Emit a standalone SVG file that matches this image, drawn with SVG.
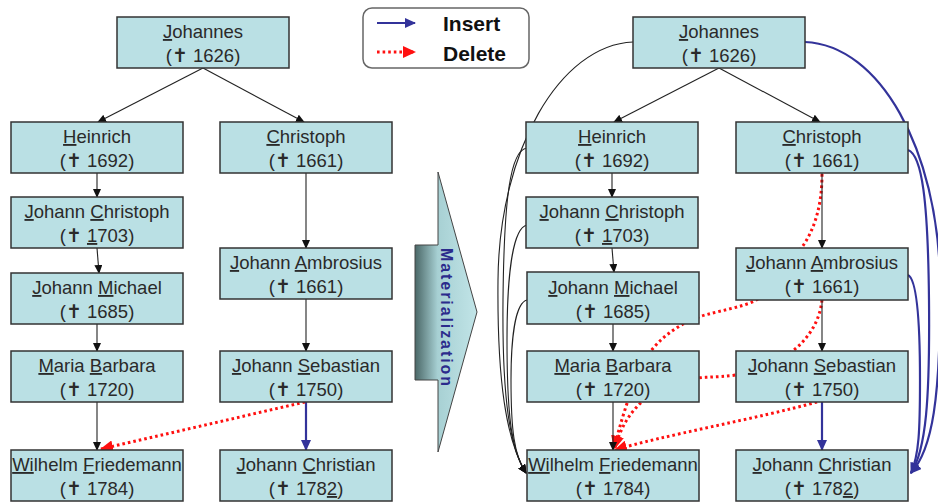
<svg xmlns="http://www.w3.org/2000/svg" width="938" height="503" viewBox="0 0 938 503">
  <style>
    .box { fill: #bae0e4; stroke: #333; stroke-width: 1.5; }
    .lbl { font-family: "Liberation Sans", Arial, sans-serif; font-size: 18.5px; fill: #2a2a2a; text-anchor: middle; }
    .u { text-decoration: underline; }
    .tree { fill: none; stroke: #222; stroke-width: 1.1; marker-end: url(#ahBlack); }
    .ins { fill: none; stroke: #33339a; stroke-width: 2.2; marker-end: url(#ahBlue); }
    .del { fill: none; stroke: #ff1010; stroke-width: 3; stroke-dasharray: 2.6 3; marker-end: url(#ahRed); }
    .legend-text { font-family: "Liberation Sans", Arial, sans-serif; font-size: 21px; font-weight: bold; fill: #111; }
  </style>
  <defs>
    <marker id="ahBlack" markerWidth="9" markerHeight="8" refX="8" refY="4" orient="auto" markerUnits="userSpaceOnUse">
      <path d="M0,0 L9,4 L0,8 Z" fill="#111"/>
    </marker>
    <marker id="ahBlue" markerWidth="11" markerHeight="10" refX="10" refY="5" orient="auto" markerUnits="userSpaceOnUse">
      <path d="M0,0 L11,5 L0,10 Z" fill="#33339a"/>
    </marker>
    <marker id="ahRed" markerWidth="13" markerHeight="12" refX="12" refY="6" orient="auto" markerUnits="userSpaceOnUse">
      <path d="M0,0 L13,6 L0,12 Z" fill="#ff1010"/>
    </marker>
    <linearGradient id="shaftGrad" x1="415" y1="0" x2="478" y2="0" gradientUnits="userSpaceOnUse">
      <stop offset="0" stop-color="#4a6767"/>
      <stop offset="0.36" stop-color="#a7d0d3"/>
      <stop offset="1" stop-color="#c2e5e8"/>
    </linearGradient>
  </defs>

  <!-- legend -->
  <g id="legend">
    <rect x="363" y="8" width="166" height="60" rx="9" fill="#fff" stroke="#666" stroke-width="1.5"/>
    <line x1="377" y1="23" x2="415" y2="23" stroke="#33339a" stroke-width="2.2" marker-end="url(#ahBlue)"/>
    <line x1="377" y1="52" x2="415" y2="52" class="del"/>
    <text class="legend-text" x="443" y="31">Insert</text>
    <text class="legend-text" x="443" y="61">Delete</text>
  </g>

  <!-- materialization block arrow -->
  <g id="materialization">
    <path d="M415,245 L438,245 L438,172 L477,312 L438,452 L438,380 L415,380 Z" fill="url(#shaftGrad)" stroke="#444" stroke-width="1"/>
    <text transform="translate(441,317) rotate(90)" x="0" y="0" text-anchor="middle" textLength="138" lengthAdjust="spacing"
          font-family="Liberation Sans, Arial, sans-serif" font-size="16" font-weight="bold" fill="#2b2b8c">Materialization</text>
  </g>

  <!-- connectors -->
  <g id="connectors">
    <!-- before materialization -->
    <line class="tree" x1="203" y1="68" x2="98" y2="122"/>
    <line class="tree" x1="203" y1="68" x2="304" y2="122"/>
    <line class="tree" x1="97" y1="173" x2="97" y2="197"/>
    <line class="tree" x1="97" y1="248" x2="99" y2="273"/>
    <line class="tree" x1="97" y1="324" x2="97" y2="351"/>
    <line class="tree" x1="97" y1="402" x2="97" y2="450"/>
    <line class="tree" x1="306" y1="173" x2="306" y2="248"/>
    <line class="tree" x1="306" y1="299" x2="306" y2="351"/>
    <line class="ins" x1="306" y1="402" x2="306" y2="450"/>
    <line class="del" x1="305" y1="402" x2="101" y2="449"/>

    <!-- after materialization: deleted edges (drawn under boxes) -->
    <path class="del" d="M822,174 C822,205 815,230 800,250 C785,275 770,295 750,303 C730,310 712,312 696,318 C676,326 661,338 650,352 C635,375 624,410 614,448"/>
    <path class="del" d="M822,300 C818,338 785,366 736,375 C715,378 700,376 680,381 C650,390 625,410 615,448"/>
    <path class="del" d="M817,402 C760,418 660,436 615,450"/>

    <!-- tree edges -->
    <line class="tree" x1="719" y1="68" x2="614" y2="122"/>
    <line class="tree" x1="719" y1="68" x2="820" y2="122"/>
    <line class="tree" x1="612" y1="173" x2="612" y2="197"/>
    <line class="tree" x1="612" y1="248" x2="614" y2="272"/>
    <line class="tree" x1="613" y1="324" x2="613" y2="351"/>
    <line class="tree" x1="613" y1="402" x2="613" y2="450"/>
    <line class="tree" x1="822" y1="173" x2="822" y2="248"/>
    <line class="tree" x1="822" y1="300" x2="822" y2="351"/>
    <line class="ins" x1="822" y1="402" x2="822" y2="450"/>

    <!-- materialized ancestor edges to Wilhelm Friedemann -->
    <path class="tree" d="M633,42 C560,45 499,150 498,280 C497,380 506,440 526,473"/>
    <path class="tree" d="M527,148 C510,150 504,200 503,300 C502,400 510,448 526,473"/>
    <path class="tree" d="M527,225 C512,228 507,280 507,340 C507,420 512,452 526,473"/>
    <path class="tree" d="M527,300 C515,303 511,340 511,380 C511,430 514,455 526,473"/>

    <!-- inserted ancestor edges to Johann Christian -->
    <path class="ins" d="M805,42 C880,45 938,150 940,280 C941,400 932,450 911,473"/>
    <path class="ins" d="M908,150 C922,155 928,200 929,300 C930,400 926,450 911,473"/>
    <path class="ins" d="M908,275 C918,280 920,330 920,380 C920,430 919,455 911,473"/>
  </g>

  <!-- left tree -->
  <g id="l-johannes"><rect class="box" x="117" y="17" width="172" height="51"/>
    <text class="lbl" x="203" y="38"><tspan class="u">J</tspan>ohannes</text>
    <text class="lbl" x="203" y="62">(✝ 1626)</text></g>
  <g id="l-heinrich"><rect class="box" x="11" y="122" width="172" height="51"/>
    <text class="lbl" x="97" y="143"><tspan class="u">H</tspan>einrich</text>
    <text class="lbl" x="97" y="167">(✝ 1692)</text></g>
  <g id="l-christoph"><rect class="box" x="220" y="122" width="172" height="51"/>
    <text class="lbl" x="306" y="143"><tspan class="u">C</tspan>hristoph</text>
    <text class="lbl" x="306" y="167">(✝ 1661)</text></g>
  <g id="l-johann-christoph"><rect class="box" x="11" y="197" width="172" height="51"/>
    <text class="lbl" x="97" y="218"><tspan class="u">J</tspan>ohann <tspan class="u">C</tspan>hristoph</text>
    <text class="lbl" x="97" y="242">(✝ <tspan class="u">1</tspan>703)</text></g>
  <g id="l-johann-michael"><rect class="box" x="11" y="273" width="172" height="51"/>
    <text class="lbl" x="97" y="294"><tspan class="u">J</tspan>ohann <tspan class="u">M</tspan>ichael</text>
    <text class="lbl" x="97" y="318">(✝ 1685)</text></g>
  <g id="l-johann-ambrosius"><rect class="box" x="220" y="248" width="172" height="51"/>
    <text class="lbl" x="306" y="269"><tspan class="u">J</tspan>ohann <tspan class="u">A</tspan>mbrosius</text>
    <text class="lbl" x="306" y="293">(✝ 1661)</text></g>
  <g id="l-maria-barbara"><rect class="box" x="11" y="351" width="172" height="51"/>
    <text class="lbl" x="97" y="372"><tspan class="u">M</tspan>aria <tspan class="u">B</tspan>arbara</text>
    <text class="lbl" x="97" y="396">(✝ 1720)</text></g>
  <g id="l-johann-sebastian"><rect class="box" x="220" y="351" width="172" height="51"/>
    <text class="lbl" x="306" y="372"><tspan class="u">J</tspan>ohann <tspan class="u">S</tspan>ebastian</text>
    <text class="lbl" x="306" y="396">(✝ 1750)</text></g>
  <g id="l-wilhelm-friedemann"><rect class="box" x="11" y="450" width="172" height="51"/>
    <text class="lbl" x="97" y="471"><tspan class="u">Wi</tspan>lhelm <tspan class="u">F</tspan>riedemann</text>
    <text class="lbl" x="97" y="495">(✝ 1784)</text></g>
  <g id="l-johann-christian"><rect class="box" x="220" y="450" width="172" height="51"/>
    <text class="lbl" x="306" y="471"><tspan class="u">J</tspan>ohann <tspan class="u">C</tspan>hristian</text>
    <text class="lbl" x="306" y="495">(✝ 178<tspan class="u">2</tspan>)</text></g>

  <!-- right tree -->
  <g id="r-johannes"><rect class="box" x="633" y="17" width="172" height="51"/>
    <text class="lbl" x="719" y="38"><tspan class="u">J</tspan>ohannes</text>
    <text class="lbl" x="719" y="62">(✝ 1626)</text></g>
  <g id="r-heinrich"><rect class="box" x="526" y="122" width="172" height="51"/>
    <text class="lbl" x="612" y="143"><tspan class="u">H</tspan>einrich</text>
    <text class="lbl" x="612" y="167">(✝ 1692)</text></g>
  <g id="r-christoph"><rect class="box" x="736" y="122" width="172" height="51"/>
    <text class="lbl" x="822" y="143"><tspan class="u">C</tspan>hristoph</text>
    <text class="lbl" x="822" y="167">(✝ 1661)</text></g>
  <g id="r-johann-christoph"><rect class="box" x="526" y="197" width="172" height="51"/>
    <text class="lbl" x="612" y="218"><tspan class="u">J</tspan>ohann <tspan class="u">C</tspan>hristoph</text>
    <text class="lbl" x="612" y="242">(✝ <tspan class="u">1</tspan>703)</text></g>
  <g id="r-johann-michael"><rect class="box" x="527" y="272" width="172" height="52"/>
    <text class="lbl" x="613" y="294"><tspan class="u">J</tspan>ohann <tspan class="u">M</tspan>ichael</text>
    <text class="lbl" x="613" y="318">(✝ 1685)</text></g>
  <g id="r-johann-ambrosius"><rect class="box" x="736" y="248" width="172" height="52"/>
    <text class="lbl" x="822" y="269"><tspan class="u">J</tspan>ohann <tspan class="u">A</tspan>mbrosius</text>
    <text class="lbl" x="822" y="293">(✝ 1661)</text></g>
  <g id="r-maria-barbara"><rect class="box" x="527" y="351" width="172" height="51"/>
    <text class="lbl" x="613" y="372"><tspan class="u">M</tspan>aria <tspan class="u">B</tspan>arbara</text>
    <text class="lbl" x="613" y="396">(✝ 1720)</text></g>
  <g id="r-johann-sebastian"><rect class="box" x="736" y="351" width="172" height="51"/>
    <text class="lbl" x="822" y="372"><tspan class="u">J</tspan>ohann <tspan class="u">S</tspan>ebastian</text>
    <text class="lbl" x="822" y="396">(✝ 1750)</text></g>
  <g id="r-wilhelm-friedemann"><rect class="box" x="527" y="450" width="172" height="51"/>
    <text class="lbl" x="613" y="471"><tspan class="u">Wi</tspan>lhelm <tspan class="u">F</tspan>riedemann</text>
    <text class="lbl" x="613" y="495">(✝ 1784)</text></g>
  <g id="r-johann-christian"><rect class="box" x="736" y="450" width="172" height="51"/>
    <text class="lbl" x="822" y="471"><tspan class="u">J</tspan>ohann <tspan class="u">C</tspan>hristian</text>
    <text class="lbl" x="822" y="495">(✝ 178<tspan class="u">2</tspan>)</text></g>
</svg>
